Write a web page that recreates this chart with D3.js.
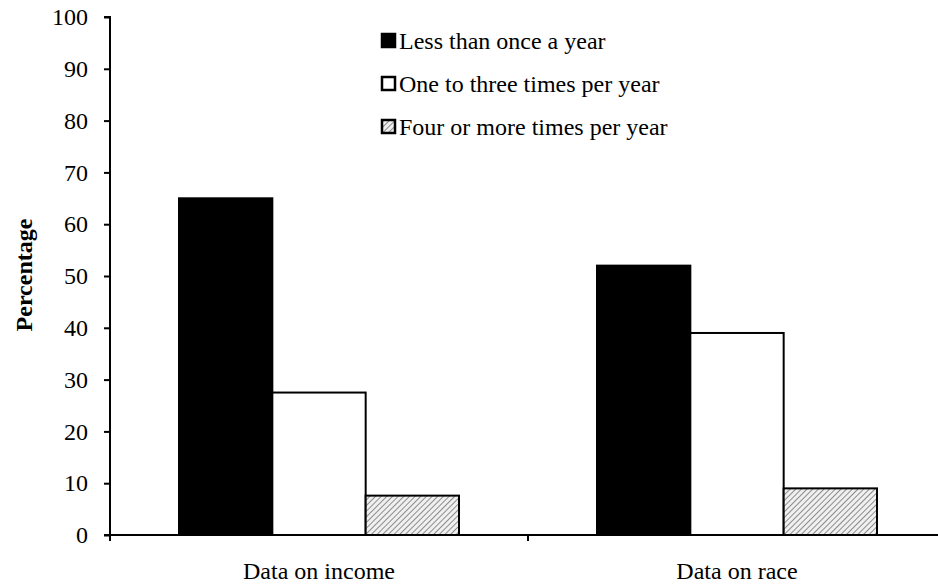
<!DOCTYPE html>
<html><head><meta charset="utf-8">
<script src="https://cdn.jsdelivr.net/npm/d3@7"></script>
<style>body{margin:0;background:#fff}svg{display:block}svg text{font-family:"Liberation Serif","Times New Roman",serif !important;fill:#000}</style>
</head><body><svg id="c" width="938" height="584"></svg>
<script>
const categories = ["Data on income", "Data on race"];
const seriesNames = ["Less than once a year", "One to three times per year", "Four or more times per year"];
const lessThanOnce = [65, 52];
const oneToThree = [27.5, 39];
const fourOrMore = [7.6, 9];
const yTicks = [0, 10, 20, 30, 40, 50, 60, 70, 80, 90, 100];

(function () {
const FONT = '"Liberation Serif","Times New Roman",serif';
const FS = 24;
const svg = d3.select("#c");
const defs = svg.append("defs");
const pat = defs.append("pattern").attr("id", "hatch").attr("patternUnits", "userSpaceOnUse")
  .attr("width", 4).attr("height", 4).attr("patternTransform", "rotate(45)");
pat.append("rect").attr("width", 4).attr("height", 4).attr("fill", "#f0f0f0");
pat.append("line").attr("x1", 0).attr("y1", 0).attr("x2", 0).attr("y2", 4).attr("stroke", "#555").attr("stroke-width", 1.3);

const mLeft = 110, mRight = 946, mTop = 17, mBottom = 535;
const x0 = d3.scaleBand().domain(categories).range([mLeft, mRight]).paddingInner(0).paddingOuter(0);
const x1 = d3.scaleBand().domain(seriesNames).range([69, x0.bandwidth() - 69]).padding(0);
const y = d3.scaleLinear().domain([0, 100]).range([mBottom, mTop]);
const fills = ["#000", "#fff", "url(#hatch)"];
const data = [lessThanOnce, oneToThree, fourOrMore];

categories.forEach((c, ci) => {
  seriesNames.forEach((s, si) => {
    const v = data[si][ci];
    svg.append("rect")
      .attr("x", x0(c) + x1(s))
      .attr("y", y(v))
      .attr("width", x1.bandwidth())
      .attr("height", y(0) - y(v))
      .attr("fill", fills[si])
      .attr("stroke", "#000").attr("stroke-width", 2);
  });
});

const yAxis = d3.axisLeft(y).tickValues(yTicks).tickSize(6).tickPadding(16);
const gy = svg.append("g").attr("transform", `translate(${mLeft},0)`).call(yAxis);
gy.attr("font-family", FONT).attr("font-size", FS);
gy.select(".domain").attr("stroke", "#000").attr("stroke-width", 2).attr("d", `M-6,${mTop}H0V${mBottom + 6}`);
gy.selectAll(".tick line").attr("stroke", "#000").attr("stroke-width", 2);
gy.selectAll(".tick text").attr("font-family", FONT).attr("font-size", FS).attr("fill", "#000");

const gx = svg.append("g").attr("transform", `translate(0,${mBottom})`);
gx.append("line").attr("x1", mLeft - 6).attr("x2", mRight).attr("y1", 0).attr("y2", 0).attr("stroke", "#000").attr("stroke-width", 2);
[x0(categories[1]), mRight].forEach(t => {
  gx.append("line").attr("x1", t).attr("x2", t).attr("y1", 0).attr("y2", 6).attr("stroke", "#000").attr("stroke-width", 2);
});
categories.forEach(c => {
  gx.append("text").attr("x", x0(c) + x0.bandwidth() / 2).attr("y", 44)
    .attr("text-anchor", "middle").attr("font-family", FONT).attr("font-size", FS).text(c);
});

svg.append("text").attr("transform", `translate(32,275) rotate(-90)`).attr("text-anchor", "middle")
  .attr("font-family", FONT).attr("font-size", FS).attr("font-weight", "bold").text("Percentage");

const legBase = [49, 92, 135];
seriesNames.forEach((s, i) => {
  svg.append("rect").attr("x", 382).attr("y", legBase[i] - 15).attr("width", 13).attr("height", 13)
    .attr("fill", fills[i]).attr("stroke", "#000").attr("stroke-width", 2.5);
  svg.append("text").attr("x", 399).attr("y", legBase[i]).attr("font-family", FONT).attr("font-size", FS).text(s);
});
})();
</script></body></html>
